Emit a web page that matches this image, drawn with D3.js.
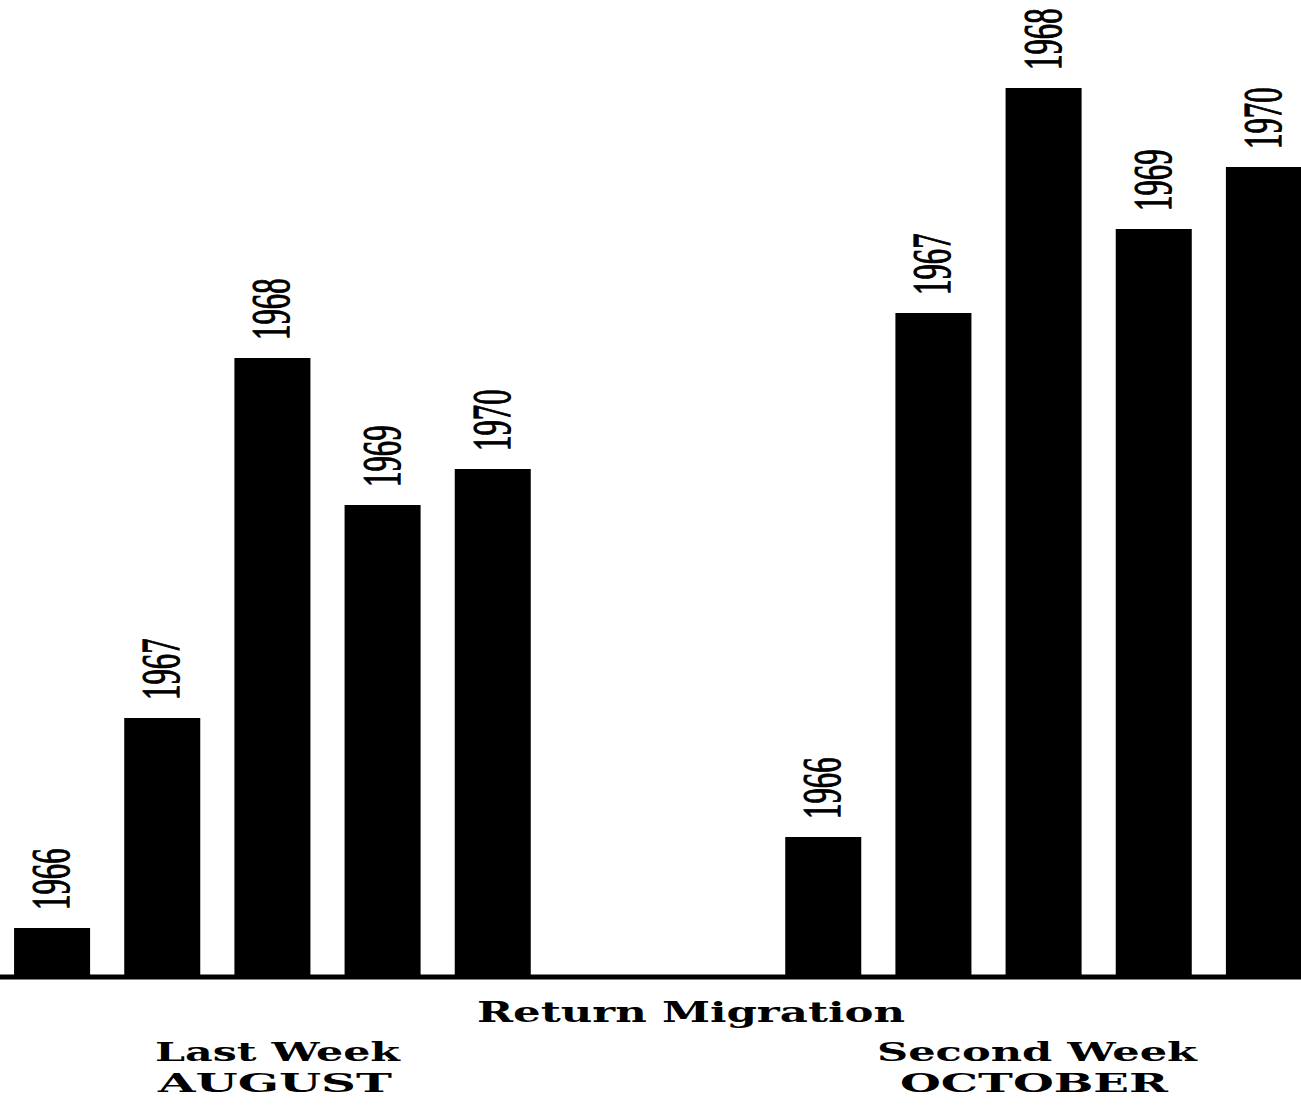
<!DOCTYPE html>
<html>
<head>
<meta charset="utf-8">
<script src="https://cdn.jsdelivr.net/npm/d3@7"></script>
<style>
  html, body { margin: 0; padding: 0; background: #fff; overflow: hidden; }
  svg { display: block; }
</style>
</head>
<body>
<div id="chart"></div>
<script>
// values (bar heights, relative units, no axis in original)
const years = ["1966", "1967", "1968", "1969", "1970"];
const augustValues = [49, 259, 619, 472, 508];
const octoberValues = [140, 664, 889, 748, 810];
const groupLabels = [["Last Week", "AUGUST"], ["Second Week", "OCTOBER"]];
const title = "Return Migration";

const width = 1301, height = 1110;
const baseY = 977;

const svg = d3.select("#chart").append("svg")
    .attr("width", width)
    .attr("height", height);

// two empty slots between the groups
const slots = years.map(y => "A" + y).concat(["gap1", "gap2"], years.map(y => "O" + y));
const x = d3.scaleBand()
    .domain(slots)
    .range([-3, 1319])
    .paddingInner(0.31)
    .paddingOuter(0.155);

const y = d3.scaleLinear()
    .domain([0, 900])
    .range([baseY, baseY - 900]);

const bars = [];
years.forEach((yr, i) => bars.push({ slot: "A" + yr, year: yr, value: augustValues[i] }));
years.forEach((yr, i) => bars.push({ slot: "O" + yr, year: yr, value: octoberValues[i] }));

svg.selectAll("rect.bar")
    .data(bars)
    .join("rect")
    .attr("class", "bar")
    .attr("x", d => x(d.slot))
    .attr("y", d => y(d.value))
    .attr("width", x.bandwidth())
    .attr("height", d => y(0) - y(d.value))
    .attr("fill", "#000");

// baseline
svg.append("line")
    .attr("x1", 0).attr("x2", width)
    .attr("y1", y(0)).attr("y2", y(0))
    .attr("stroke", "#000")
    .attr("stroke-width", 5);

// rotated year labels above bars
svg.selectAll("text.year")
    .data(bars)
    .join("text")
    .attr("class", "year")
    .attr("transform", d => {
        const cx = x(d.slot) + x.bandwidth() / 2;
        return `translate(${cx + 17},${y(d.value) - 18}) rotate(-90) scale(0.56,1)`;
    })
    .attr("font-family", "Liberation Serif, DejaVu Serif, serif")
    .attr("font-size", 55)
    .attr("fill", "#000")
    .attr("stroke", "#000")
    .attr("stroke-width", 1.2)
    .text(d => d.year);

const labelFont = "DejaVu Serif, Liberation Serif, serif";

svg.append("text")
    .attr("x", 477).attr("y", 1022)
    .attr("font-family", labelFont)
    .attr("font-weight", "bold")
    .attr("font-size", 28)
    .attr("textLength", 428)
    .attr("lengthAdjust", "spacingAndGlyphs")
    .text(title);

const groupCfg = [
    { lines: groupLabels[0], x: [155, 158], w: [245, 234] },
    { lines: groupLabels[1], x: [877, 900], w: [320, 268] }
];
groupCfg.forEach(g => {
    g.lines.forEach((line, j) => {
        svg.append("text")
            .attr("x", g.x[j])
            .attr("y", j === 0 ? 1061 : 1092)
            .attr("font-family", labelFont)
            .attr("font-weight", "bold")
            .attr("font-size", 26)
            .attr("textLength", g.w[j])
            .attr("lengthAdjust", "spacingAndGlyphs")
            .text(line);
    });
});
</script>
</body>
</html>
